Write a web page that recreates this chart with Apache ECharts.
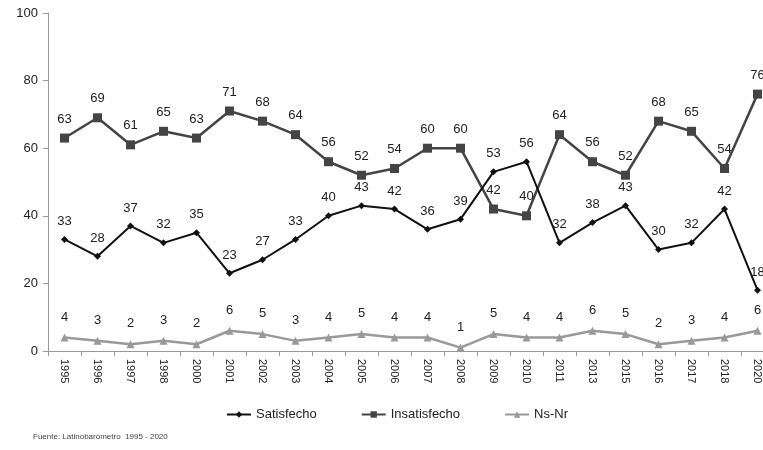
<!DOCTYPE html>
<html>
<head>
<meta charset="utf-8">
<script src="https://cdn.jsdelivr.net/npm/echarts@6/dist/echarts.min.js"></script>
<style>
  html, body { margin: 0; padding: 0; background: #fff; }
  #container { width: 763px; height: 450px; }
</style>
</head>
<body>
<div id="container"></div>
<script>
var years = ['1995','1996','1997','1998','2000','2001','2002','2003','2004','2005','2006',
  '2007','2008','2009','2010','2011','2013','2015','2016','2017','2018','2020'];
var satisfecho = [33,28,37,32,35,23,27,33,40,43,42,36,39,53,56,32,38,43,30,32,42,18];
var insatisfecho = [63,69,61,65,63,71,68,64,56,52,54,60,60,42,40,64,56,52,68,65,54,76];
var nsnr = [4,3,2,3,2,6,5,3,4,5,4,4,1,5,4,4,6,5,2,3,4,6];

var dom = document.getElementById('container');
var myChart = echarts.init(dom);

var labelStyle = {
  show: true,
  position: 'top',
  distance: 8,
  color: '#222',
  fontFamily: 'Liberation Sans, Arial',
  fontSize: 13
};

var option = {
  animation: false,
  textStyle: { fontFamily: 'Liberation Sans, Arial' },
  grid: {
    left: 48,
    top: 13,
    width: 726,
    height: 338,
    outerBoundsMode: 'none',
    containLabel: false
  },
  legend: {
    top: 408,
    left: 226,
    padding: 0,
    itemGap: 44,
    itemTextGap: 1,
    itemWidth: 24,
    itemHeight: 8,
    textStyle: { color: '#222', fontSize: 13 },
    data: ['Satisfecho', 'Insatisfecho', 'Ns-Nr']
  },
  graphic: [{
    type: 'text',
    left: 33,
    top: 433,
    style: {
      text: 'Fuente: Latinobarómetro  1995 - 2020',
      fill: '#444',
      font: '8px Liberation Sans, Arial'
    }
  }],
  xAxis: {
    type: 'category',
    data: years,
    boundaryGap: true,
    axisLine: { lineStyle: { color: '#999', width: 1 } },
    axisTick: { show: true, lineStyle: { color: '#999' } },
    axisLabel: {
      rotate: -90,
      color: '#222',
      fontSize: 11,
      margin: 8,
      interval: 0
    }
  },
  yAxis: {
    type: 'value',
    min: 0,
    max: 100,
    interval: 20,
    axisLine: { show: true, lineStyle: { color: '#999' } },
    axisTick: { show: true, lineStyle: { color: '#999' } },
    splitLine: { show: false },
    axisLabel: { color: '#222', fontSize: 13, margin: 10 }
  },
  series: [
    {
      name: 'Satisfecho',
      type: 'line',
      data: satisfecho,
      symbol: 'diamond',
      symbolSize: 7,
      itemStyle: { color: '#111' },
      lineStyle: { color: '#111', width: 2 },
      label: labelStyle,
      z: 3
    },
    {
      name: 'Insatisfecho',
      type: 'line',
      data: insatisfecho,
      symbol: 'rect',
      symbolSize: 9,
      itemStyle: { color: '#444' },
      lineStyle: { color: '#444', width: 2.5 },
      label: labelStyle,
      z: 2
    },
    {
      name: 'Ns-Nr',
      type: 'line',
      data: nsnr,
      symbol: 'triangle',
      symbolSize: 8,
      itemStyle: { color: '#999' },
      lineStyle: { color: '#999', width: 2.5 },
      label: Object.assign({}, labelStyle, { distance: 10 }),
      z: 1
    }
  ]
};

myChart.setOption(option, true);
</script>
</body>
</html>
